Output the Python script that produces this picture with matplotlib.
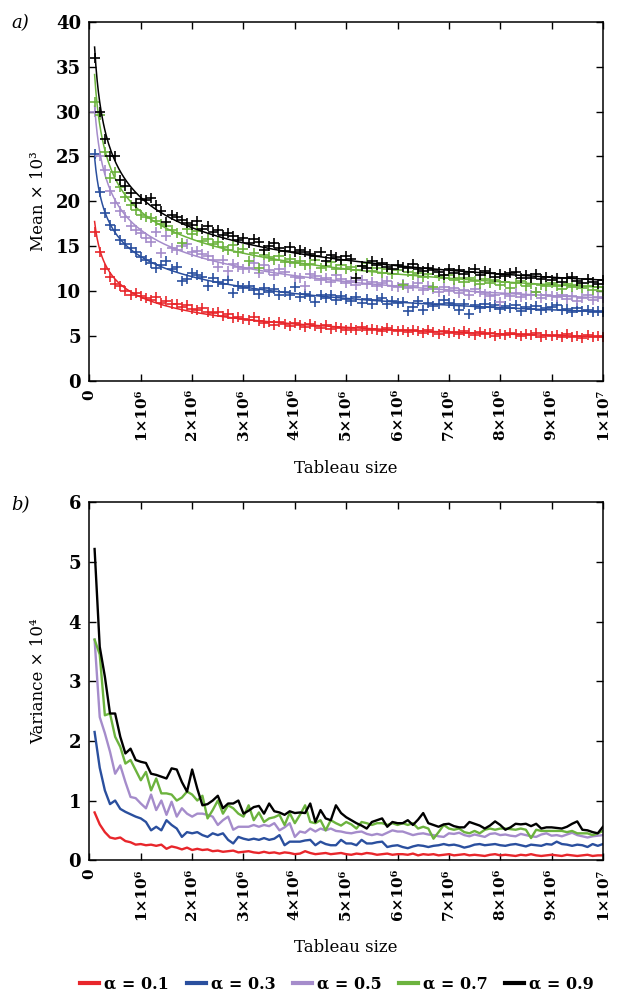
import matplotlib
matplotlib.use("Agg")
import matplotlib.pyplot as plt
import numpy as np

# tableau sizes, 1e5 .. 1e7 in steps of 1e5
tableau_size = np.arange(1, 101) * 1e5

alphas = ["0.1", "0.3", "0.5", "0.7", "0.9"]
colors = ["#e8262b", "#2a4f9e", "#a58ccb", "#6cb33e", "#000000"]

# mean (x 10^3), read off panel a)
mean_01 = [16.6, 14.3, 12.5, 11.6, 10.8, 10.5, 10.0, 9.6, 9.8, 9.4,
           9.2, 9.0, 9.3, 8.7, 8.9, 8.5, 8.6, 8.2, 8.4, 8.0,
           7.9, 8.1, 7.6, 7.5, 7.7, 7.2, 7.4, 7.0, 7.1, 6.9,
           6.8, 7.1, 6.6, 6.4, 6.5, 6.2, 6.5, 6.3, 6.1, 6.4,
           6.2, 6.0, 6.3, 6.1, 5.9, 6.2, 5.8, 6.0, 5.9, 5.7,
           5.9, 5.7, 6.0, 5.6, 5.8, 5.7, 5.5, 5.9, 5.6, 5.5,
           5.7, 5.4, 5.6, 5.5, 5.3, 5.6, 5.4, 5.2, 5.5, 5.3,
           5.4, 5.2, 5.5, 5.3, 5.1, 5.4, 5.2, 5.3, 5.0, 5.2,
           5.1, 5.3, 5.2, 5.0, 5.2, 5.1, 5.3, 4.9, 5.1, 5.0,
           5.1, 4.9, 5.2, 4.9, 5.0, 4.8, 5.1, 4.9, 5.0, 4.9]
mean_03 = [25.3, 21.0, 18.7, 17.4, 16.8, 15.7, 15.2, 14.8, 14.3, 13.8,
           13.5, 13.1, 12.6, 12.9, 13.3, 12.4, 12.7, 11.1, 11.3, 12.0,
           11.8, 11.6, 10.5, 11.4, 11.0, 10.8, 11.2, 9.8, 10.6, 10.3,
           10.5, 10.1, 9.7, 10.3, 9.9, 10.2, 9.5, 9.9, 9.6, 10.4,
           9.3, 9.7, 9.4, 8.8, 9.6, 9.2, 9.5, 9.0, 9.4, 9.1,
           8.9, 9.3, 8.7, 9.1, 8.6, 9.0, 9.2, 8.5, 8.9, 8.7,
           8.8, 7.8, 8.2, 8.9, 7.9, 8.7, 8.3, 8.6, 9.0, 8.7,
           8.5, 7.9, 8.6, 7.4, 8.4, 8.1, 8.5, 8.2, 8.4, 8.0,
           8.3, 8.1, 8.4, 7.8, 8.2, 8.0, 8.3, 7.9, 8.1, 8.2,
           8.4, 7.9, 8.0, 7.7, 8.1, 7.8, 7.9, 7.6, 7.8, 7.7]
mean_05 = [30.0, 25.0, 23.5, 21.1, 19.8, 18.9, 18.2, 17.2, 16.8, 16.5,
           15.9, 15.5, 16.6, 14.2, 16.1, 14.8, 14.6, 15.0, 15.2, 14.3,
           14.5, 14.1, 13.9, 13.4, 12.7, 13.5, 12.2, 13.0, 12.7, 12.4,
           12.6, 13.1, 12.0, 12.9, 12.3, 11.8, 12.5, 12.1, 13.2, 11.6,
           11.4, 10.6, 11.9, 11.7, 11.2, 11.5, 11.0, 11.8, 11.3, 10.9,
           11.1, 10.7, 11.2, 10.8, 11.0, 10.5, 10.9, 11.1, 10.6, 10.4,
           10.8, 10.3, 10.6, 10.9, 10.1, 10.5, 10.2, 9.9, 10.4, 10.0,
           10.3, 9.8, 10.1, 9.5, 10.2, 9.9, 9.7, 9.4, 9.6, 8.8,
           9.7, 9.4, 9.8, 9.3, 9.6, 9.5, 9.9, 9.2, 9.5, 9.4,
           9.3, 9.6, 9.1, 9.4, 8.9, 9.2, 9.5, 9.0, 9.3, 9.2]
mean_07 = [31.1, 29.6, 25.5, 22.6, 23.3, 21.6, 20.5, 19.6, 19.0, 18.5,
           18.3, 18.1, 17.8, 17.5, 17.2, 16.8, 16.5, 15.3, 16.9, 16.3,
           16.7, 15.6, 15.8, 15.2, 15.5, 14.9, 14.6, 15.1, 14.3, 14.7,
           13.3, 14.2, 12.6, 14.0, 13.8, 13.4, 13.9, 13.2, 13.6, 13.1,
           13.3, 12.9, 13.0, 13.5, 12.6, 12.8, 13.2, 12.4, 12.9, 12.5,
           12.7, 12.3, 12.8, 13.1, 12.2, 12.6, 12.0, 12.4, 11.9, 12.3,
           10.7, 12.1, 11.8, 12.0, 11.6, 11.9, 10.4, 11.7, 11.4, 11.8,
           11.2, 11.4, 11.0, 11.5, 11.1, 10.8, 11.3, 10.9, 11.2, 10.7,
           11.0, 10.3, 10.9, 11.1, 10.6, 10.8, 9.9, 10.7, 10.5, 10.9,
           10.6, 10.2, 10.8, 10.4, 10.7, 10.3, 10.5, 10.1, 10.4, 10.0]
mean_09 = [36.0, 30.0, 27.0, 25.0, 25.1, 22.4, 21.7, 20.9, 19.8, 20.3,
           20.2, 20.4, 19.6, 18.9, 17.7, 18.5, 18.3, 17.9, 17.6, 17.4,
           17.8, 16.9, 17.2, 16.6, 16.8, 16.2, 16.5, 16.1, 15.7, 15.9,
           15.4, 15.8, 15.5, 14.6, 15.0, 15.3, 14.8, 14.5, 14.9, 14.3,
           14.6, 14.4, 14.1, 13.9, 14.3, 13.3, 14.0, 13.8, 13.5, 13.9,
           13.6, 11.5, 12.8, 12.6, 13.3, 12.9, 13.1, 12.7, 12.5, 12.9,
           12.7, 12.6, 13.0, 12.4, 12.2, 12.6, 12.3, 12.1, 11.8, 12.4,
           12.0, 12.3, 11.9, 12.1, 12.5, 11.8, 12.2, 12.0, 11.6, 11.9,
           11.7, 12.0, 12.1, 11.5, 11.8, 11.4, 11.9, 11.3, 11.6, 11.2,
           11.5, 11.0, 11.4, 11.6, 11.1, 10.9, 11.3, 11.0, 10.8, 11.2]

# variance (x 10^4), read off panel b)
var_01 = [0.80, 0.60, 0.47, 0.38, 0.36, 0.38, 0.32, 0.30, 0.26, 0.27,
          0.25, 0.26, 0.24, 0.26, 0.19, 0.23, 0.21, 0.18, 0.21, 0.17,
          0.19, 0.17, 0.18, 0.15, 0.16, 0.14, 0.15, 0.16, 0.13, 0.14,
          0.15, 0.13, 0.12, 0.14, 0.12, 0.13, 0.11, 0.13, 0.12, 0.10,
          0.11, 0.15, 0.12, 0.10, 0.11, 0.12, 0.10, 0.11, 0.12, 0.10,
          0.09, 0.11, 0.10, 0.12, 0.11, 0.09, 0.10, 0.11, 0.09, 0.10,
          0.10, 0.09, 0.11, 0.08, 0.10, 0.09, 0.10, 0.08, 0.09, 0.10,
          0.08, 0.09, 0.10, 0.08, 0.09, 0.08, 0.07, 0.09, 0.10, 0.08,
          0.09, 0.08, 0.07, 0.09, 0.08, 0.10, 0.08, 0.07, 0.08, 0.09,
          0.08, 0.07, 0.09, 0.08, 0.07, 0.08, 0.09, 0.07, 0.08, 0.08]
var_03 = [2.15, 1.55, 1.17, 0.94, 1.00, 0.86, 0.81, 0.77, 0.73, 0.70,
          0.64, 0.50, 0.56, 0.50, 0.67, 0.59, 0.53, 0.39, 0.47, 0.45,
          0.47, 0.42, 0.39, 0.45, 0.42, 0.45, 0.34, 0.28, 0.39, 0.36,
          0.34, 0.36, 0.34, 0.37, 0.34, 0.36, 0.42, 0.25, 0.31, 0.31,
          0.31, 0.33, 0.34, 0.25, 0.31, 0.27, 0.25, 0.25, 0.34, 0.28,
          0.28, 0.25, 0.34, 0.28, 0.28, 0.30, 0.31, 0.22, 0.24, 0.25,
          0.22, 0.20, 0.23, 0.25, 0.24, 0.22, 0.24, 0.25, 0.27, 0.25,
          0.26, 0.24, 0.21, 0.23, 0.26, 0.27, 0.25, 0.26, 0.27, 0.25,
          0.24, 0.26, 0.27, 0.25, 0.23, 0.26, 0.25, 0.24, 0.27, 0.26,
          0.31, 0.27, 0.26, 0.24, 0.26, 0.25, 0.22, 0.27, 0.24, 0.27]
var_05 = [3.70, 2.40, 2.13, 1.82, 1.45, 1.59, 1.31, 1.06, 1.04, 0.95,
          0.87, 1.10, 0.84, 1.00, 0.76, 0.98, 0.73, 0.87, 0.78, 0.73,
          0.78, 0.78, 0.76, 0.73, 0.59, 0.67, 0.73, 0.51, 0.56, 0.56,
          0.56, 0.59, 0.56, 0.59, 0.57, 0.62, 0.50, 0.55, 0.62, 0.39,
          0.48, 0.46, 0.53, 0.48, 0.53, 0.50, 0.53, 0.49, 0.48, 0.46,
          0.45, 0.47, 0.48, 0.44, 0.42, 0.44, 0.42, 0.46, 0.50, 0.48,
          0.48, 0.45, 0.42, 0.44, 0.45, 0.43, 0.42, 0.40, 0.39, 0.45,
          0.44, 0.46, 0.42, 0.40, 0.43, 0.41, 0.39, 0.44, 0.45, 0.42,
          0.43, 0.41, 0.40, 0.44, 0.42, 0.40, 0.39, 0.43, 0.45, 0.41,
          0.42, 0.40, 0.43, 0.46, 0.42, 0.40, 0.38, 0.40, 0.41, 0.42]
var_07 = [3.70, 3.45, 2.43, 2.46, 2.07, 1.90, 1.62, 1.68, 1.51, 1.34,
          1.48, 1.17, 1.37, 1.12, 1.12, 1.10, 1.00, 1.05, 1.15, 1.10,
          1.00, 1.08, 0.70, 0.84, 1.00, 0.78, 0.92, 0.87, 0.78, 0.73,
          0.92, 0.67, 0.80, 0.64, 0.70, 0.72, 0.76, 0.59, 0.79, 0.62,
          0.76, 0.92, 0.64, 0.62, 0.67, 0.50, 0.67, 0.62, 0.58, 0.64,
          0.60, 0.53, 0.64, 0.62, 0.59, 0.62, 0.62, 0.59, 0.62, 0.59,
          0.62, 0.59, 0.62, 0.53, 0.56, 0.53, 0.36, 0.47, 0.59, 0.53,
          0.51, 0.53, 0.47, 0.45, 0.49, 0.45, 0.51, 0.53, 0.51, 0.53,
          0.53, 0.52, 0.51, 0.53, 0.51, 0.37, 0.51, 0.49, 0.49, 0.49,
          0.49, 0.49, 0.47, 0.49, 0.45, 0.45, 0.45, 0.42, 0.45, 0.49]
var_09 = [5.22, 3.58, 3.08, 2.46, 2.46, 2.07, 1.79, 1.87, 1.68, 1.65,
          1.63, 1.45, 1.43, 1.40, 1.37, 1.54, 1.52, 1.31, 1.15, 1.52,
          1.20, 0.92, 0.94, 1.00, 1.08, 0.87, 0.95, 0.95, 1.00, 0.78,
          0.83, 0.89, 0.91, 0.78, 0.95, 0.82, 0.80, 0.76, 0.82, 0.79,
          0.80, 0.79, 0.95, 0.64, 0.84, 0.70, 0.67, 0.92, 0.79, 0.72,
          0.67, 0.62, 0.58, 0.53, 0.64, 0.67, 0.70, 0.56, 0.64, 0.62,
          0.62, 0.67, 0.59, 0.68, 0.79, 0.62, 0.59, 0.56, 0.60, 0.61,
          0.57, 0.55, 0.55, 0.64, 0.61, 0.58, 0.53, 0.58, 0.65, 0.59,
          0.51, 0.55, 0.61, 0.60, 0.61, 0.57, 0.61, 0.53, 0.55, 0.55,
          0.54, 0.53, 0.56, 0.61, 0.65, 0.51, 0.50, 0.47, 0.45, 0.56]

means = [mean_01, mean_03, mean_05, mean_07, mean_09]
variances = [var_01, var_03, var_05, var_07, var_09]

xtick_pos = np.arange(0, 11) * 1e6
xtick_labels = ["0", "1×10⁶", "2×10⁶", "3×10⁶", "4×10⁶", "5×10⁶",
                "6×10⁶", "7×10⁶", "8×10⁶", "9×10⁶", "1×10⁷"]

plt.rcParams['font.family'] = ['DejaVu Serif']

fig = plt.figure(figsize=(6.3, 9.99), dpi=100)
ax1 = fig.add_axes([0.142, 0.619, 0.815, 0.359])
ax2 = fig.add_axes([0.142, 0.139, 0.815, 0.358])

# a) mean: crosses + power-law fit done in log-log space
xfit = np.linspace(tableau_size[0], tableau_size[-1], 400)
for y, c in zip(means, colors):
    y = np.array(y)
    ax1.plot(tableau_size, y, linestyle='none', marker='+', markersize=7.5,
             markeredgewidth=1.2, color=c)
    slope, icpt = np.polyfit(np.log(tableau_size), np.log(y), 1)
    ax1.plot(xfit, np.exp(icpt) * xfit ** slope, color=c, linewidth=1.1)

# b) variance lines
for y, c, a in zip(variances, colors, alphas):
    ax2.plot(tableau_size, y, color=c, linewidth=1.7, label="α = " + a)

for ax in (ax1, ax2):
    ax.set_xlim(0, 1e7)
    ax.set_xticks(xtick_pos)
    ax.set_xticklabels(xtick_labels, rotation=90, fontweight='bold', fontsize=11)
    ax.tick_params(direction='in', top=True, right=True, length=5, width=1, pad=6)
    for spine in ax.spines.values():
        spine.set_linewidth(1.1)
    ax.set_xlabel("Tableau size", fontsize=12, labelpad=14)

ax1.set_ylim(0, 40)
ax1.set_yticks(np.arange(0, 41, 5))
ax1.set_yticklabels([str(v) for v in range(0, 41, 5)], fontweight='bold', fontsize=13)
ax1.set_ylabel("Mean × 10³", fontsize=12)
ax1.yaxis.set_label_coords(-0.083, 0.5)

ax2.set_ylim(0, 6)
ax2.set_yticks(np.arange(0, 7, 1))
ax2.set_yticklabels([str(v) for v in range(0, 7)], fontweight='bold', fontsize=13)
ax2.set_ylabel("Variance × 10⁴", fontsize=12)
ax2.yaxis.set_label_coords(-0.083, 0.5)

fig.text(0.018, 0.972, "a)", fontsize=13, style='italic')
fig.text(0.018, 0.489, "b)", fontsize=13, style='italic')

leg = fig.legend(loc='lower center', ncol=5, bbox_to_anchor=(0.535, -0.008),
                 frameon=False, handlelength=1.2, columnspacing=1.1,
                 handletextpad=0.3, prop={'size': 11.5, 'weight': 'bold'})
for line in leg.get_lines():
    line.set_linewidth(3)

fig.savefig("out.png", dpi=100)
